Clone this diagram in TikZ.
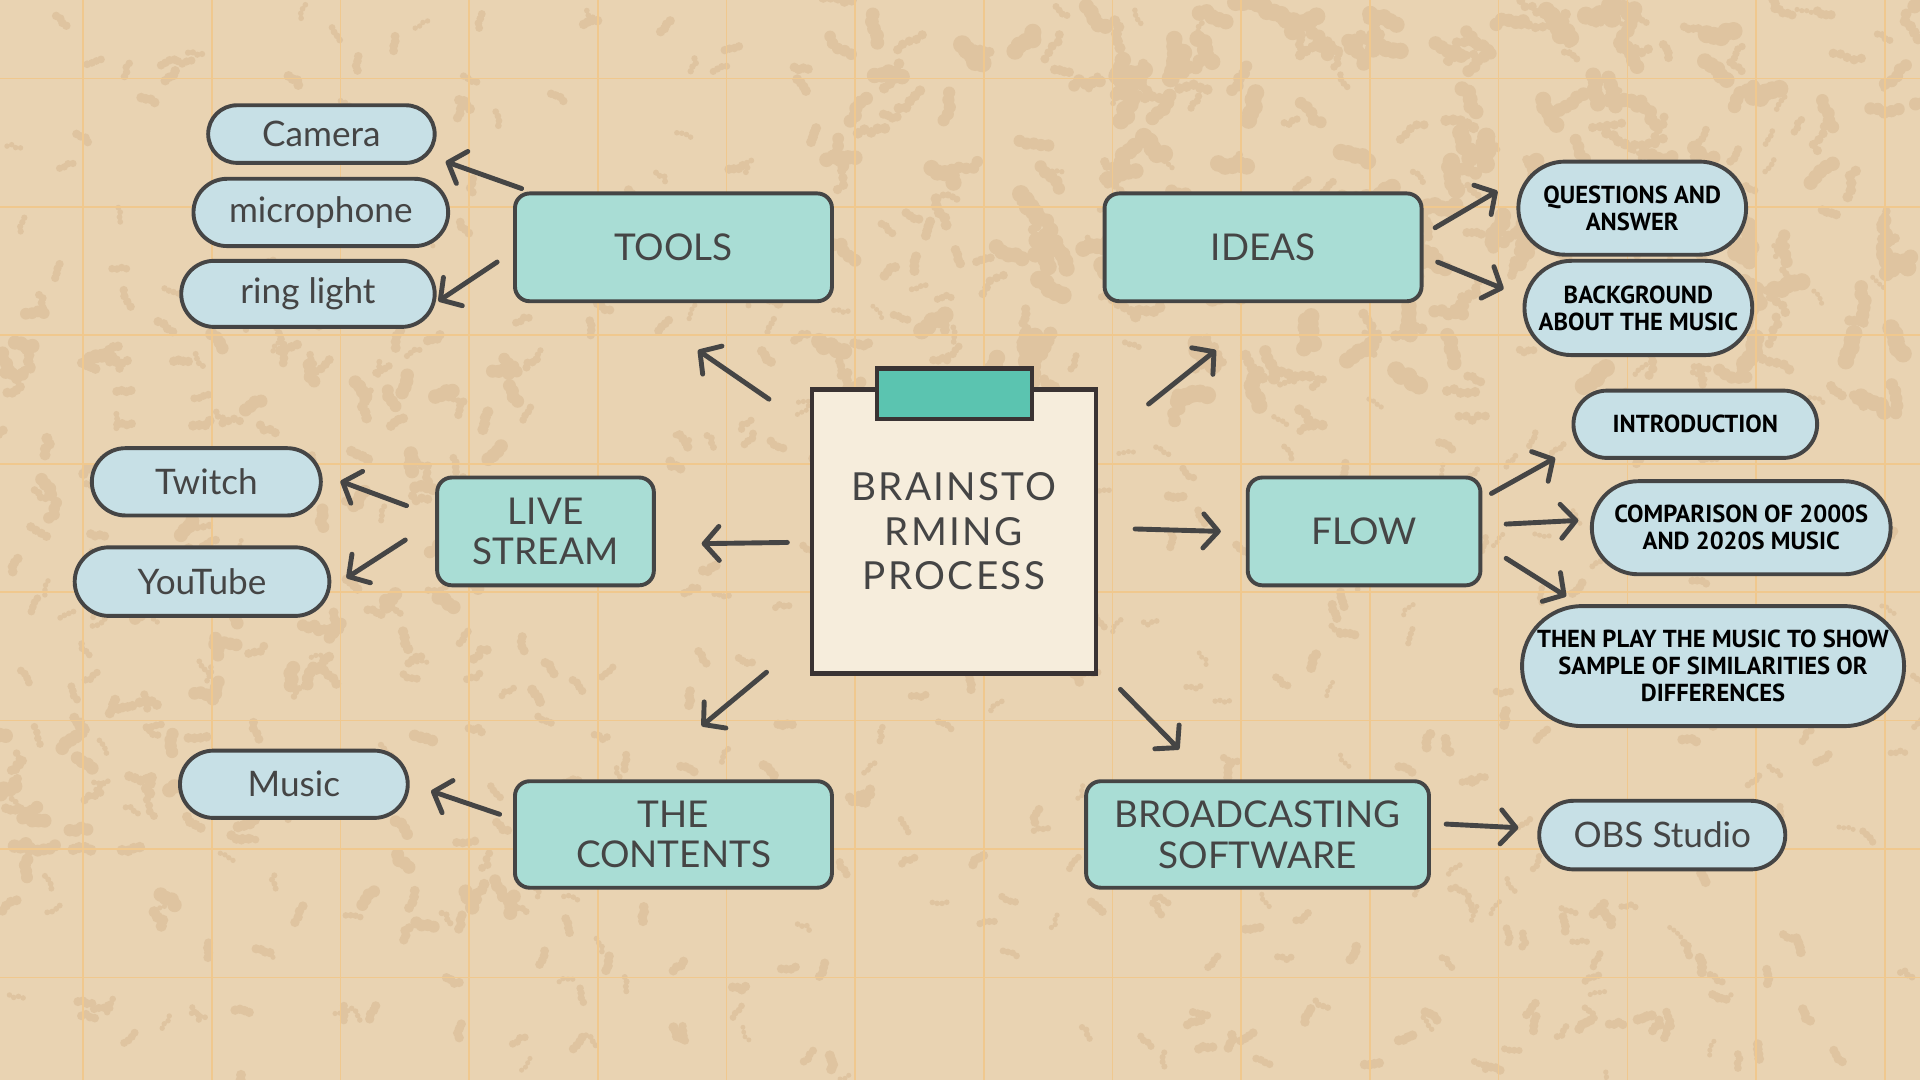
\documentclass[tikz,border=0pt]{standalone}
\usepackage{fontspec}
\setmainfont{Lato}
\newfontfamily\handfont{PT Sans}
\newfontfamily\notefont[LetterSpace=6]{Lato}
\usetikzlibrary{arrows.meta,shapes.misc,calc}
\definecolor{bg}{HTML}{E9D3B2}
\definecolor{blobc}{HTML}{DFC4A0}
\definecolor{gridc}{HTML}{F0C88E}
\definecolor{ink}{HTML}{454545}
\definecolor{teal}{HTML}{A9DDD5}
\definecolor{pill}{HTML}{C7E0E6}
\definecolor{paper}{HTML}{F6EDDC}
\definecolor{tabc}{HTML}{5BC4B0}
\definecolor{noteink}{HTML}{3A3333}
\tikzset{
  mainbox/.style={draw=ink, fill=teal, line width=0.39mm, rounded corners=1.47mm,
    align=center, text=ink, font=\fontsize{10.5}{11.6}\selectfont, inner sep=0pt},
  pillbox/.style={draw=ink, fill=pill, line width=0.39mm, rounded rectangle,
    align=center, text=ink, font=\fontsize{10}{11}\selectfont, inner sep=0pt},
  handpill/.style={pillbox, text=black, font=\handfont\bfseries\fontsize{7}{7.7}\selectfont},
  arr/.style={draw=ink, line width=0.49mm, line cap=round, line join=round,
    -{Straight Barb[length=1.5mm, width=3.4mm, round]}},
  gridline/.style={draw=gridc, line width=0.16mm},
  blob/.style={fill=blobc}
}
\begin{document}
\begin{tikzpicture}[x=0.12245mm, y=-0.12245mm]
\fill[bg] (0,0) rectangle (1568,882);
\useasboundingbox (0,0) rectangle (1568,882);
% texture: small squiggly spots
\pgfmathsetseed{12}
\foreach \i in {1,...,650}{
  \pgfmathsetmacro\bx{rnd*1568}
  \pgfmathsetmacro\by{rnd*882}
  \pgfmathsetmacro\an{rnd*360}
  \pgfmathsetmacro\rr{(2+rnd*2.2)*0.12245}
  \fill[blob] (\bx,\by) circle[radius=\rr mm]
    ++(\an:4) circle[radius=\rr mm]
    ++({\an+70*rnd-35}:4) circle[radius=\rr mm]
    ++({\an+90*rnd-45}:4) circle[radius=\rr mm];
}
% denser, larger patches in the upper right
\foreach \i in {1,...,220}{
  \pgfmathsetmacro\bx{680+rnd*888}
  \pgfmathsetmacro\by{rnd*340}
  \pgfmathsetmacro\an{rnd*360}
  \pgfmathsetmacro\rr{(3.5+rnd*4)*0.12245}
  \fill[blob] (\bx,\by) circle[radius=\rr mm]
    ++(\an:6) circle[radius=\rr mm]
    ++({\an+80*rnd-40}:6) circle[radius=\rr mm]
    ++({\an+80*rnd-40}:6) circle[radius=\rr mm]
    ++({\an+90*rnd-45}:6) circle[radius=\rr mm];
}
% patches on the left side
\foreach \i in {1,...,120}{
  \pgfmathsetmacro\bx{rnd*420}
  \pgfmathsetmacro\by{250+rnd*520}
  \pgfmathsetmacro\an{rnd*360}
  \pgfmathsetmacro\rr{(3+rnd*3)*0.12245}
  \fill[blob] (\bx,\by) circle[radius=\rr mm]
    ++(\an:5) circle[radius=\rr mm]
    ++({\an+80*rnd-40}:5) circle[radius=\rr mm]
    ++({\an+90*rnd-45}:5) circle[radius=\rr mm];
}
% grid
\foreach \k in {0,...,14}{ \draw[gridline] ({67.8+105.1*\k},0) -- ({67.8+105.1*\k},882); }
\foreach \k in {0,...,7}{ \draw[gridline] (0,{64+104.9*\k}) -- (1568,{64+104.9*\k}); }

% centre note
\node[draw=noteink, fill=paper, line width=0.43mm, minimum width=28.4mm, minimum height=28.4mm,
  inner sep=0pt, align=center, text=ink, font=\notefont\fontsize{11}{12.6}\selectfont]
  (center) at (779,434) {BRAINSTO\\RMING\\PROCESS};
\node[draw=noteink, fill=tabc, line width=0.43mm, minimum width=15.55mm, minimum height=5.02mm,
  inner sep=0pt] (tab) at (779.5,321.5) {};

% main boxes (1 unit = 0.12245mm)
\node[mainbox, minimum width=31.7mm, minimum height=10.78mm] (tools) at (550,202) {TOOLS};
\node[mainbox, minimum width=31.7mm, minimum height=10.78mm] (ideas) at (1031.5,202) {IDEAS};
\node[mainbox, minimum width=21.67mm, minimum height=10.78mm] (live) at (445.5,434) {LIVE\\STREAM};
\node[mainbox, minimum width=23.27mm, minimum height=10.78mm] (flow) at (1114,434) {FLOW};
\node[mainbox, minimum width=31.7mm, minimum height=10.65mm] (contents) at (550,681.5) {THE\\CONTENTS};
\node[mainbox, minimum width=34.29mm, minimum height=10.65mm] (broad) at (1027,681.5) {BROADCASTING\\SOFTWARE};

% pills
\node[pillbox, minimum width=22.65mm, minimum height=5.76mm] (camera) at (262.5,109.5) {Camera};
\node[pillbox, minimum width=25.47mm, minimum height=6.73mm] (mic) at (262,173.5) {microphone};
\node[pillbox, minimum width=25.35mm, minimum height=6.61mm] (ring) at (251.5,240) {ring light};
\node[pillbox, minimum width=22.9mm, minimum height=6.73mm] (twitch) at (168.5,393.5) {Twitch};
\node[pillbox, minimum width=25.47mm, minimum height=6.86mm] (youtube) at (165,475) {YouTube};
\node[pillbox, minimum width=22.78mm, minimum height=6.73mm] (music) at (240,640.5) {Music};
\node[pillbox, minimum width=24.61mm, minimum height=6.86mm] (obs) at (1357.5,682) {OBS Studio};
\node[handpill, minimum width=22.78mm, minimum height=9.31mm] (qa) at (1333,170) {QUESTIONS AND\\ANSWER};
\node[handpill, minimum width=22.78mm, minimum height=9.43mm] (bgm) at (1338,251.5) {BACKGROUND\\ABOUT THE MUSIC};
\node[handpill, minimum width=24.37mm, minimum height=6.73mm] (intro) at (1384.5,346.5) {INTRODUCTION};
\node[handpill, minimum width=29.88mm, minimum height=9.31mm] (comp) at (1422,431) {COMPARISON OF 2000S\\AND 2020S MUSIC};
\node[handpill, minimum width=38.2mm, minimum height=12.0mm] (then) at (1399,544) {THEN PLAY THE MUSIC TO SHOW\\SAMPLE OF SIMILARITIES OR\\DIFFERENCES};

% connector end points
\coordinate (ct1) at (628,326);  \coordinate (ct2) at (570,286);
\coordinate (ci1) at (938,330);  \coordinate (ci2) at (993,286);
\coordinate (cl1) at (643,443);  \coordinate (cl2) at (573,444);
\coordinate (cf1) at (927,432);  \coordinate (cf2) at (997,434);
\coordinate (cc1) at (626,549);  \coordinate (cc2) at (573,593);
\coordinate (cb1) at (915,563);  \coordinate (cb2) at (963,612);
\coordinate (tc1) at (426,154);  \coordinate (tc2) at (364,132);
\coordinate (tr1) at (406,214);  \coordinate (tr2) at (358,246);
\coordinate (iq1) at (1172,186); \coordinate (iq2) at (1223,156);
\coordinate (ib1) at (1174,214); \coordinate (ib2) at (1228,236);
\coordinate (fi1) at (1218,403); \coordinate (fi2) at (1270,374);
\coordinate (fc1) at (1230,428); \coordinate (fc2) at (1289,425);
\coordinate (ft1) at (1230,456); \coordinate (ft2) at (1279,487);
\coordinate (lt1) at (332,413);  \coordinate (lt2) at (278,393);
\coordinate (ly1) at (331,441);  \coordinate (ly2) at (283,472);
\coordinate (cm1) at (408,665);  \coordinate (cm2) at (352,646);
\coordinate (bo1) at (1181,673); \coordinate (bo2) at (1240,676);

\foreach \a/\b in {ct1/ct2, ci1/ci2, cl1/cl2, cf1/cf2, cc1/cc2, cb1/cb2,
  tc1/tc2, tr1/tr2, iq1/iq2, ib1/ib2, fi1/fi2, fc1/fc2, ft1/ft2,
  lt1/lt2, ly1/ly2, cm1/cm2, bo1/bo2}{
  \draw[arr] (\a) -- (\b);
}
\end{tikzpicture}
\end{document}
